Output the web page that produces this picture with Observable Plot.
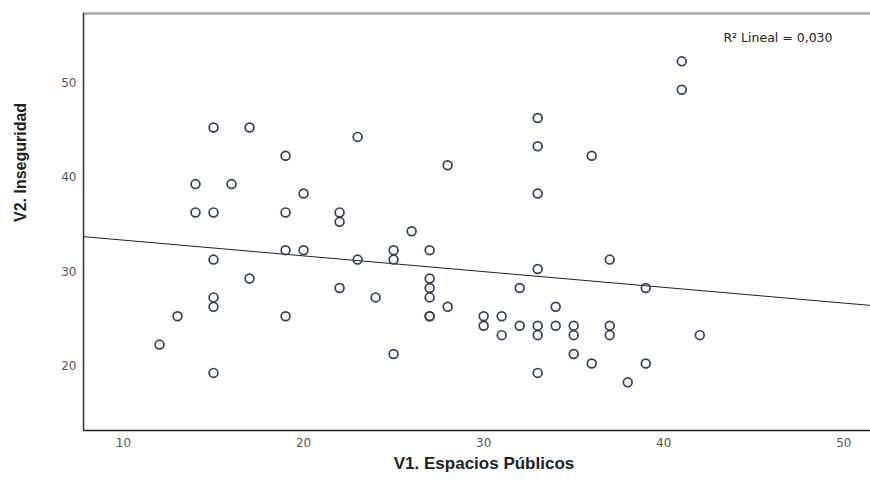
<!DOCTYPE html>
<html><head><meta charset="utf-8">
<script src="https://cdn.jsdelivr.net/npm/d3@7"></script>
<script src="https://cdn.jsdelivr.net/npm/@observablehq/plot@0.6"></script>
<style>
body{margin:0;background:#fff;}
</style></head><body><div id="chart"></div>
<script>
// V1. Espacios Públicos (x) and V2. Inseguridad (y), one entry per respondent
const v1 = [12,13,14,14,15,15,15,15,15,15,16,17,17,19,19,19,19,20,20,22,22,22,23,23,24,25,25,25,26,27,27,27,27,27,27,28,28,30,30,31,31,32,32,33,33,33,33,33,33,33,34,34,35,35,35,36,36,37,37,37,38,39,39,41,41,42];
const v2 = [22,25,39,36,45,36,31,27,26,19,39,45,29,42,36,32,25,38,32,36,35,28,44,31,27,32,31,21,34,32,29,28,27,25,25,41,26,25,24,25,23,28,24,46,43,38,30,24,23,19,26,24,24,23,21,42,20,31,24,23,18,28,20,52,49,23];
const xTicks = [10,20,30,40,50];
const yTicks = [20,30,40,50];
const xTitle = "V1. Espacios Públicos";
const yTitle = "V2. Inseguridad";
const r2Label = "R² Lineal = 0,030";

const data = v1.map((x, i) => ({x, y: v2[i]}));
const xDomain = [7.78, 51.48];
const yDomain = [12.9, 57.07];

// ordinary least squares fit, drawn across the whole x range (like SPSS fit line)
const mx = d3.mean(v1), my = d3.mean(v2);
const slope = d3.sum(data, d => (d.x - mx) * (d.y - my)) / d3.sum(data, d => (d.x - mx) ** 2);
const intercept = my - slope * mx;
const fit = xDomain.map(x => ({x, y: intercept + slope * x}));

const tickFont = "'DejaVu Sans', Verdana, sans-serif";

const chart = Plot.plot({
  width: 870, height: 481,
  marginLeft: 83, marginRight: 0, marginTop: 13, marginBottom: 51,
  style: {fontFamily: "'Liberation Sans', Arial, sans-serif", background: "#fff", overflow: "visible"},
  x: {domain: xDomain, label: null},
  y: {domain: yDomain, label: null},
  marks: [
    Plot.axisX({ticks: xTicks, tickSize: 0, tickPadding: 8, fontSize: 12, fill: "#555", fontFamily: tickFont, label: null}),
    Plot.axisY({ticks: yTicks, tickSize: 0, tickPadding: 7, fontSize: 12, fill: "#555", fontFamily: tickFont, dy: 3, label: null}),
    Plot.ruleY([yDomain[1]], {stroke: "#a8a8a8", strokeWidth: 2.5}),
    Plot.ruleX([xDomain[0]], {stroke: "#333", strokeWidth: 1.5}),
    Plot.ruleY([yDomain[0]], {stroke: "#222", strokeWidth: 1.5}),
    Plot.line(fit, {x: "x", y: "y", stroke: "#222", strokeWidth: 1}),
    Plot.dot(data, {x: "x", y: "y", r: 4.4, stroke: "#34405a", strokeWidth: 1.7, fill: "none"}),
    Plot.text([r2Label], {frameAnchor: "top-right", dx: -38, dy: 20, textAnchor: "end", fontSize: 12.5, fill: "#222", fontFamily: tickFont}),
    Plot.text([xTitle], {frameAnchor: "bottom", dx: 7, dy: 38, fontSize: 17, fontWeight: "bold", fill: "#222"}),
    Plot.text([yTitle], {frameAnchor: "left", dx: -63, rotate: -90, fontSize: 16, fontWeight: "bold", fill: "#222"})
  ]
});
document.getElementById("chart").append(chart);
</script>
</body></html>
